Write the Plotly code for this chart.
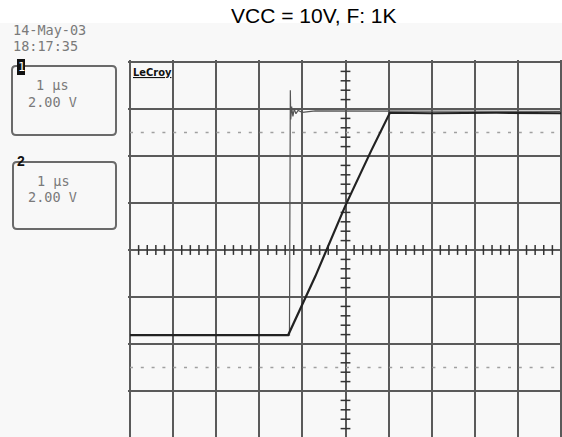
import numpy as np
import plotly.graph_objects as go

W, H = 562, 437

# ---- data (oscilloscope divisions: x 0..10, y -4..4, center = 0) ----
ch1_x = [0.0, 3.67, 4.30, 5.00, 5.60, 6.03, 7.0, 8.5, 10.0]
ch1_y = [-1.81, -1.81, -0.56, 0.95, 2.12, 2.92, 2.91, 2.92, 2.91]

ch2_x = [0.0, 3.70, 3.72, 3.73, 3.75, 3.78, 3.81, 3.85, 3.90, 4.00, 4.30, 10.0]
ch2_y = [-1.81, -1.81, 3.40, 2.78, 3.05, 2.84, 3.00, 2.90, 2.97, 2.93, 2.96, 2.95]

title_text = "VCC = 10V, F: 1K"
date_text = "14-May-03"
time_text = "18:17:35"
ch_labels = ["1", "2"]
timebase = "1 µs"
vscale = "2.00 V"


def px(x):
    return x / W


def py(y):
    return 1 - y / H


fig = go.Figure()

# dotted mid-division reference lines
for yv in (2.5, -2.5):
    fig.add_trace(go.Scatter(x=[0, 10], y=[yv, yv], mode="lines",
                             line=dict(color="#a0a0a0", width=1.5, dash="3px,7.8px"),
                             hoverinfo="skip", showlegend=False))

# minor ticks on center axes
tx = [v for v in np.arange(0, 10.001, 0.2) if abs(v - round(v)) > 1e-6]
ty = [v for v in np.arange(-4, 4.001, 0.2) if abs(v - round(v)) > 1e-6]
fig.add_trace(go.Scatter(x=tx, y=[0] * len(tx), mode="markers",
                         marker=dict(symbol="line-ns", size=7, line=dict(color="#333", width=1.5)),
                         hoverinfo="skip", showlegend=False))
fig.add_trace(go.Scatter(x=[5] * len(ty), y=ty, mode="markers",
                         marker=dict(symbol="line-ew", size=7, line=dict(color="#333", width=1.5)),
                         hoverinfo="skip", showlegend=False))

# channel traces
fig.add_trace(go.Scatter(x=ch2_x, y=ch2_y, mode="lines",
                         line=dict(color="#555", width=1.2), showlegend=False))
fig.add_trace(go.Scatter(x=ch1_x, y=ch1_y, mode="lines",
                         line=dict(color="#222", width=2.2), showlegend=False))

# ground marker
fig.add_trace(go.Scatter(x=[-0.19], y=[-0.53], mode="markers", cliponaxis=False,
                         marker=dict(symbol="triangle-right", size=6, color="#333"),
                         hoverinfo="skip", showlegend=False))

x_px0, x_px1 = 128, 562
y_px0, y_px1 = 60, 437
ppd_x, ppd_y = 43.1, 47.0
fig.update_xaxes(domain=[px(x_px0), px(x_px1)],
                 range=[(x_px0 - 130) / ppd_x, (x_px1 - 130) / ppd_x],
                 showgrid=True, dtick=1, tick0=0, gridcolor="#5a5a5a", gridwidth=2.2,
                 zeroline=False, showticklabels=False, ticks="", showline=False)
fig.update_yaxes(domain=[py(y_px1), py(y_px0)],
                 range=[4 - (y_px1 - 62) / ppd_y, 4 + (62 - y_px0) / ppd_y],
                 showgrid=True, dtick=1, tick0=0, gridcolor="#5a5a5a", gridwidth=2.2,
                 zeroline=False, showticklabels=False, ticks="", showline=False)


def rounded_box(x0, y0, x1, y1, r=4):
    X0, X1 = px(x0), px(x1)
    Y0, Y1 = py(y0), py(y1)
    rx, ry = r / W, r / H
    return (f"M {X0+rx},{Y0} L {X1-rx},{Y0} Q {X1},{Y0} {X1},{Y0-ry} "
            f"L {X1},{Y1+ry} Q {X1},{Y1} {X1-rx},{Y1} L {X0+rx},{Y1} "
            f"Q {X0},{Y1} {X0},{Y1+ry} L {X0},{Y0-ry} Q {X0},{Y0} {X0+rx},{Y0} Z")


shapes = [
    dict(type="rect", xref="paper", yref="paper", x0=0, x1=1, y0=0, y1=py(23),
         fillcolor="#f8f8f8", line=dict(width=0), layer="below"),
    dict(type="path", xref="paper", yref="paper", path=rounded_box(12, 66, 116, 135),
         line=dict(color="#6a6a6a", width=2)),
    dict(type="path", xref="paper", yref="paper", path=rounded_box(13, 162, 116, 229),
         line=dict(color="#6a6a6a", width=2)),
    dict(type="rect", xref="paper", yref="paper", x0=px(17), x1=px(25), y0=py(75), y1=py(59),
         fillcolor="#111", line=dict(width=0)),
]

mono = "DejaVu Sans Mono"
gray = "#7a7a7a"
annotations = [
    dict(text=title_text, x=px(314), y=py(15), xref="paper", yref="paper", showarrow=False,
         font=dict(family="Liberation Sans, Arial", size=21, color="#000"),
         xanchor="center", yanchor="middle"),
    dict(text=date_text, x=px(11), y=py(30), xref="paper", yref="paper", showarrow=False,
         font=dict(family=mono, size=13.5, color=gray), xanchor="left", yanchor="middle"),
    dict(text=time_text, x=px(11), y=py(46), xref="paper", yref="paper", showarrow=False,
         font=dict(family=mono, size=13.5, color=gray), xanchor="left", yanchor="middle"),
    dict(text=ch_labels[0], x=px(21), y=py(67), xref="paper", yref="paper", showarrow=False,
         font=dict(family=mono, size=12, color="#fff"), xanchor="center", yanchor="middle"),
    dict(text=timebase, x=px(34), y=py(85), xref="paper", yref="paper", showarrow=False,
         font=dict(family=mono, size=13.5, color=gray), xanchor="left", yanchor="middle"),
    dict(text=vscale, x=px(26), y=py(102), xref="paper", yref="paper", showarrow=False,
         font=dict(family=mono, size=13.5, color=gray), xanchor="left", yanchor="middle"),
    dict(text="<b>" + ch_labels[1] + "</b>", x=px(21), y=py(161), xref="paper", yref="paper",
         showarrow=False, font=dict(family="Liberation Sans, Arial", size=14, color="#111"),
         xanchor="center", yanchor="middle"),
    dict(text=timebase, x=px(35), y=py(181), xref="paper", yref="paper", showarrow=False,
         font=dict(family=mono, size=13.5, color=gray), xanchor="left", yanchor="middle"),
    dict(text=vscale, x=px(26), y=py(197), xref="paper", yref="paper", showarrow=False,
         font=dict(family=mono, size=13.5, color=gray), xanchor="left", yanchor="middle"),
    dict(text="<b><u>LeCroy</u></b>", x=px(131), y=py(72), xref="paper", yref="paper",
         showarrow=False, font=dict(family="DejaVu Sans Condensed, DejaVu Sans", size=11, color="#111"),
         xanchor="left", yanchor="middle"),
]

fig.update_layout(width=W, height=H, margin=dict(l=0, r=0, t=0, b=0),
                  paper_bgcolor="#ffffff", plot_bgcolor="rgba(0,0,0,0)",
                  shapes=shapes, annotations=annotations, showlegend=False)

fig.write_html("out.html", config={"displayModeBar": False},
               post_script="document.body.style.margin='0';")
